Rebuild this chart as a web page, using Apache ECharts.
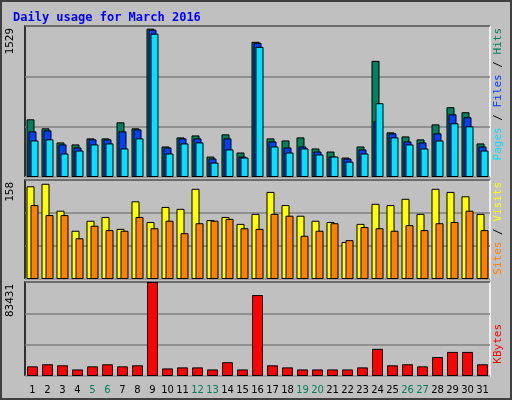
<!DOCTYPE html>
<html><head><meta charset="utf-8">
<script src="https://cdn.jsdelivr.net/npm/echarts@6/dist/echarts.min.js"></script>
<style>html,body{margin:0;padding:0;background:#c0c0c0}#c{width:512px;height:400px}</style>
</head><body><div id="c"></div>
<script>
const days = ['1','2','3','4','5','6','7','8','9','10','11','12','13','14','15','16','17','18','19','20','21','22','23','24','25','26','27','28','29','30','31'];
const weekend = ['5','6','12','13','19','20','26','27'];
const hits  = [584,493,350,330,391,391,554,493,1502,309,401,421,207,432,248,1369,391,370,401,289,258,197,309,1176,452,411,381,533,707,656,340];
const files = [462,472,330,299,381,381,462,482,1492,299,391,391,187,391,207,1359,360,299,309,258,207,187,279,564,442,360,350,442,635,605,309];
const pages = [370,381,238,268,330,340,289,391,1451,238,340,350,146,279,197,1318,309,248,289,228,207,156,238,747,401,330,289,370,544,513,268];
const visits = [148,152,109,77,93,99,80,124,91,115,112,144,94,99,88,104,139,118,101,93,91,59,88,120,118,128,104,144,139,132,104];
const sites  = [118,102,102,65,85,78,77,99,81,93,73,89,93,96,81,80,104,101,69,77,89,62,83,81,77,86,78,89,91,109,78];
const kbytes = [8557,10391,9474,5807,8557,10391,8557,9474,83431,6723,7640,7640,5807,12224,5807,71819,9474,7640,5807,5807,5807,5807,7640,24143,9474,10391,8557,16808,21393,21393,10391];
const maxTop = 1529, maxMid = 158, maxBot = 83431;

const grids = [
  {left:25, width:465, top:26, height:151},
  {left:25, width:465, top:180, height:99},
  {left:25, width:465, top:282, height:94}
];
const mk = (i, show) => ({type:'category', gridIndex:i, data:days, boundaryGap:true,
  axisLine:{show:false}, axisTick:{show:false},
  axisLabel:{show:show, interval:0, fontFamily:'DejaVu Sans', fontSize:10, margin:9,
    color:(v)=>weekend.includes(v)?'#00805c':'#000'}});
const my = (i, max) => ({type:'value', gridIndex:i, min:0, max:max, interval:max/3,
  axisLabel:{show:false}, axisLine:{show:false}, axisTick:{show:false},
  splitLine:{show:true, lineStyle:{color:'#808080', width:1.5}}});
const bs = {borderColor:'#000', borderWidth:1};
const bar = (name, data, xi, color, w, gap) => ({name, type:'bar', xAxisIndex:xi, yAxisIndex:xi,
  data, barWidth:w, barGap:gap, itemStyle:Object.assign({color}, bs), animation:false});

const ylab = (txt, x, y) => ({type:'text', x, y, rotation:Math.PI/2,
  style:{text:txt, fill:'#000', font:'11px DejaVu Sans Mono', align:'right', verticalAlign:'middle'}});
const F = '11px DejaVu Sans Mono';
const rlab = (parts, x, y) => ({type:'text', x, y, rotation:Math.PI/2,
  style:{text:parts.map(p=>'{'+p[1]+'|'+p[0]+'}').join(''), font:F,
    align:'right', verticalAlign:'middle',
    rich:{a:{fill:'#00e0ff',font:F},b:{fill:'#0040ff',font:F},
      c:{fill:'#008060',font:F},k:{fill:'#000',font:F},
      y:{fill:'#ffff00',font:F},o:{fill:'#ff8000',font:F},
      r:{fill:'#ff0000',font:F}}}});
const frame = (g) => [
  {type:'polyline', shape:{points:[[g.left,g.top+g.height],[g.left,g.top],[g.left+g.width,g.top]]}, style:{stroke:'#000', fill:null, lineWidth:1.5}},
  {type:'polyline', shape:{points:[[g.left+g.width,g.top],[g.left+g.width,g.top+g.height],[g.left,g.top+g.height]]}, style:{stroke:'#fff', fill:null, lineWidth:1.5}}
];

const chart = echarts.init(document.getElementById('c'), null, {renderer:'canvas'});
chart.setOption({
  backgroundColor:'#c0c0c0', animation:false,
  title:{text:'Daily usage for March 2016', left:8, top:7,
    textStyle:{color:'#0000ff', fontFamily:'DejaVu Sans Mono', fontWeight:'bold', fontSize:12}},
  grid: grids,
  xAxis:[mk(0,false), mk(1,false), mk(2,true)],
  yAxis:[my(0,maxTop), my(1,maxMid), my(2,maxBot)],
  series:[
    bar('Hits', hits, 0, '#00805c', 8, '-75%'),
    bar('Files', files, 0, '#0040ff', 8, '-75%'),
    bar('Pages', pages, 0, '#00e0ff', 8, '-75%'),
    bar('Visits', visits, 1, '#ffff00', 8, '-50%'),
    bar('Sites', sites, 1, '#ff8000', 8, '-50%'),
    bar('KBytes', kbytes, 2, '#ff0000', 11, '0%')
  ],
  graphic:[
    {type:'rect', shape:{x:1,y:1,width:510,height:398}, style:{fill:null, stroke:'#404040', lineWidth:2}, silent:true},
    ...frame(grids[0]), ...frame(grids[1]), ...frame(grids[2]),
    ylab('1529', 10, 28), ylab('158', 10, 182), ylab('83431', 10, 284),
    rlab([['Pages','a'],[' / ','k'],['Files','b'],[' / ','k'],['Hits','c']], 498, 28),
    rlab([['Sites','o'],[' / ','k'],['Visits','y']], 498, 182),
    rlab([['KBytes','r']], 498, 324)
  ]
});
</script></body></html>
